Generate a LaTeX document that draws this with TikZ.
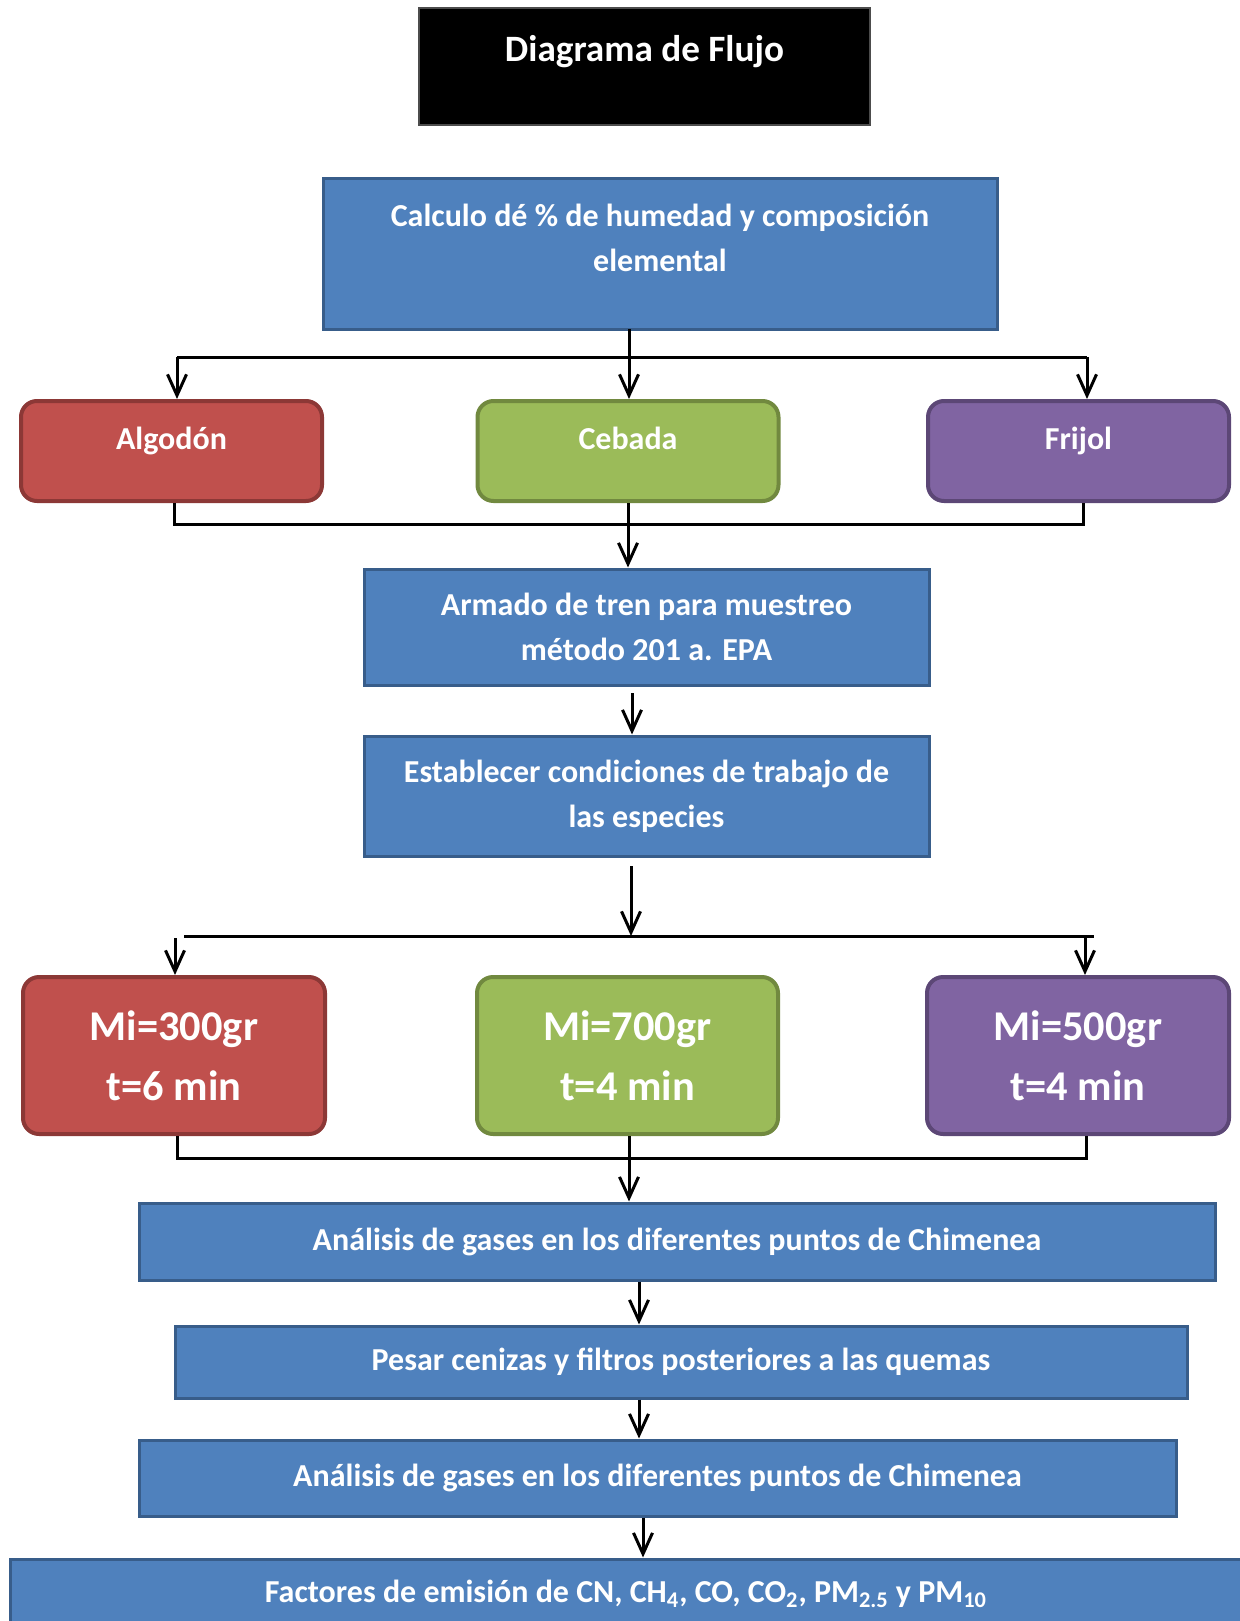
\documentclass[tikz,border=0pt]{standalone}
\usepackage{fontspec}
\setmainfont{Carlito}
\usetikzlibrary{arrows.meta}

\definecolor{bluefill}{HTML}{4F81BD}
\definecolor{blueline}{HTML}{385D8A}
\definecolor{redfill}{HTML}{C0504D}
\definecolor{redline}{HTML}{8C3836}
\definecolor{greenfill}{HTML}{9BBB59}
\definecolor{greenline}{HTML}{71893F}
\definecolor{purplefill}{HTML}{8064A2}
\definecolor{purpleline}{HTML}{5C4776}

\tikzset{
  box/.style={draw, line width=1.5pt, text=white, align=center, inner sep=0pt,
    font=\bfseries\fontsize{16}{22.5}\selectfont},
  bluebox/.style={box, fill=bluefill, draw=blueline},
  roundbox/.style={box, rounded corners=8pt, line width=2pt},
  redbox/.style={roundbox, fill=redfill, draw=redline},
  greenbox/.style={roundbox, fill=greenfill, draw=greenline},
  purplebox/.style={roundbox, fill=purplefill, draw=purpleline},
  bigtxt/.style={font=\bfseries\fontsize{21.2}{30}\selectfont},
  txt/.style={text=white, align=center, inner sep=0pt,
    font=\bfseries\fontsize{16}{22.5}\selectfont},
  onetxt/.style={txt, text height=11pt, text depth=4pt},
  conn/.style={line width=1.5pt},
  arr/.style={conn, -{Straight Barb[length=10.5pt,width=9.5pt,line width=1.5pt]}},
}

\begin{document}
\begin{tikzpicture}[x=0.5pt,y=-0.5pt]
\useasboundingbox (0,0) rectangle (1240,1621);

% title
\node (title) [box, fill=black, draw=black!70, line width=1pt, minimum width=225.5pt, minimum height=58.5pt] at (644.5,66.5) {};
\node (titletxt) [onetxt, font=\bfseries\fontsize{18.6}{22.5}\selectfont] at (644.5,55) {Diagrama de Flujo};

\node (calc) [bluebox, minimum width=337pt, minimum height=75pt] at (660,254) {};
\node (calctxt) [txt] at (660,238) {Calculo dé \% de humedad y composición\\elemental};

% especies
\node (algodon) [redbox, minimum width=150.5pt, minimum height=50pt] at (171.5,451) {};
\node (cebada) [greenbox, minimum width=150.5pt, minimum height=50pt] at (628,451) {};
\node (frijol) [purplebox, minimum width=150.5pt, minimum height=50pt] at (1078.5,451) {};
\node (algodontxt) [onetxt] at (171.5,442) {Algodón};
\node (cebadatxt) [onetxt] at (628,442) {Cebada};
\node (frijoltxt) [onetxt] at (1078.5,442) {Frijol};

\node (armado) [bluebox, minimum width=282.5pt, minimum height=58pt] at (646.5,627) {Armado de tren para muestreo\\método 201 a. EPA};
\node (estab) [bluebox, minimum width=282.5pt, minimum height=60pt] at (646.5,796) {Establecer condiciones de trabajo de\\las especies};

% masas
\node (mi300) [redbox, bigtxt, minimum width=151pt, minimum height=78.5pt] at (174,1055.5) {Mi=300gr\\t=6 min};
\node (mi700) [greenbox, bigtxt, minimum width=150.5pt, minimum height=78.5pt] at (627.5,1055.5) {Mi=700gr\\t=4 min};
\node (mi500) [purplebox, bigtxt, minimum width=151pt, minimum height=78.5pt] at (1078,1055.5) {Mi=500gr\\t=4 min};

\node (gases1) [bluebox, minimum width=538pt, minimum height=38.5pt] at (677,1241.5) {Análisis de gases en los diferentes puntos de Chimenea};
\node (pesar) [bluebox, minimum width=506pt, minimum height=36pt] at (681,1362) {Pesar cenizas y filtros posteriores a las quemas};
\node (gases2) [bluebox, minimum width=518.5pt, minimum height=38pt] at (657.5,1478) {Análisis de gases en los diferentes puntos de Chimenea};
\node (factores) [bluebox, minimum width=620pt, minimum height=40.5pt] at (630,1599.5) {};
\node (factorestxt) [onetxt] at (626,1595) {Factores de emisión de CN, CH\textsubscript{4}, CO, CO\textsubscript{2}, PM\textsubscript{2.5} y PM\textsubscript{10}};

% conectores
\coordinate (top1) at (629,329);
\coordinate (split1l) at (177,357);
\coordinate (split1r) at (1087,357);
\draw[arr] (top1) -- (top1 |- cebada.north);
\draw[conn] (split1l) -- (split1r);
\draw[arr] (split1l) -- (split1l |- algodon.north);
\draw[arr] (split1r) -- (split1r |- frijol.north);

\coordinate (join1l) at (174,524);
\coordinate (join1r) at (1083,524);
\draw[conn] (join1l |- algodon.south) -- (join1l) -- (join1r) -- (join1r |- frijol.south);
\draw[arr] (cebada.south) -- (cebada.south |- armado.north);

\coordinate (a2) at (632,693);
\draw[arr] (a2) -- (a2 |- estab.north);

\coordinate (e1) at (631,866);
\coordinate (split2) at (631,936);
\coordinate (split2l) at (184,936);
\coordinate (split2r) at (1094,936);
\coordinate (drop2l) at (175,938);
\coordinate (drop2r) at (1085,938);
\draw[arr] (e1) -- (split2);
\draw[conn] (split2l) -- (split2r);
\draw[arr] (drop2l) -- (drop2l |- mi300.north);
\draw[arr] (drop2r) -- (drop2r |- mi500.north);

\coordinate (join2l) at (177,1158);
\coordinate (join2r) at (1086,1158);
\coordinate (mid2) at (629,1158);
\draw[conn] (join2l |- mi300.south) -- (join2l) -- (join2r) -- (join2r |- mi500.south);
\draw[arr] (mid2 |- mi700.south) -- (mid2 |- gases1.north);

\coordinate (g1) at (639,0);
\coordinate (g2) at (643,0);
\draw[arr] (g1 |- gases1.south) -- (g1 |- pesar.north);
\draw[arr] (g1 |- pesar.south) -- (g1 |- gases2.north);
\draw[arr] (g2 |- gases2.south) -- (g2 |- factores.north);
\end{tikzpicture}
\end{document}
